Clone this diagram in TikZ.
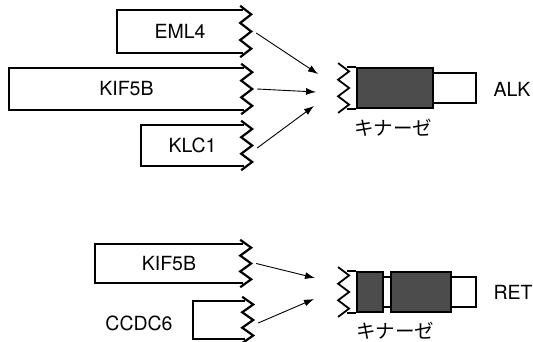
\documentclass[tikz,border=0pt]{standalone}
\usepackage{fontspec}
\setmainfont{TeX Gyre Heros}
\newfontfamily\jpfont{Noto Sans CJK JP}
\usetikzlibrary{arrows.meta, positioning, calc}

% fragment outline: open box with a zigzag break on the right
\newcommand{\fragbox}[1]{%
  \draw[fragline] (#1.north east) -- (#1.north west) -- (#1.south west) -- (#1.south east);
  \coordinate (#1-zt) at ($(#1.north east)+(-3,4)$);
  \coordinate (#1-zb) at ($(#1.south east)+(-3,-4)$);
  \draw[fragline] (#1-zt) \foreach \k [evaluate=\k as \dx using {mod(\k,2)*11}] in {1,...,6}
    {-- ($(#1-zt)!\k/6!(#1-zb)+(\dx,0)$)};
}
% zigzag break on the left of a kinase part
\newcommand{\kinbreak}[1]{%
  \coordinate (#1-zt) at ($(#1.north west)+(-18,4)$);
  \coordinate (#1-zb) at ($(#1.south west)+(-18,-4)$);
  \draw[kinline] (#1.north west) -- ++(-9,0);
  \draw[kinline] (#1.south west) -- ++(-9,0);
  \draw[kinline] (#1-zt) \foreach \k [evaluate=\k as \dx using {mod(\k,2)*11}] in {1,...,6}
    {-- ($(#1-zt)!\k/6!(#1-zb)+(\dx,0)$)};
}

\begin{document}
\begin{tikzpicture}[
    x=1pt, y=1pt,
    frag/.style={draw=none, rectangle, inner sep=0pt, font=\fontsize{19.5}{22}\selectfont},
    fragline/.style={line width=2.2pt, line join=miter},
    kinline/.style={line width=1.8pt},
    kinase/.style={draw, line width=1.8pt, fill=black!70, inner sep=0pt, minimum height=40pt},
    cterm/.style={draw, line width=1.8pt, fill=white, inner sep=0pt, minimum height=30pt},
    genelabel/.style={font=\fontsize{19.5}{22}\selectfont, anchor=west},
    kinlabel/.style={font=\jpfont\fontsize{19.5}{22}\selectfont},
    arrow/.style={line width=0.9pt, -{Latex[length=10pt, width=7pt]}}
]
\useasboundingbox (0,0) rectangle (533,-342);

% ALK fusions
\node (eml4) [frag, minimum width=126pt, minimum height=43pt] at (180,-31.5) {EML4};
\node (kif5a) [frag, minimum width=235pt, minimum height=42pt] at (126.5,-89) {KIF5B};
\node (klc1) [frag, minimum width=103pt, minimum height=41pt] at (192.5,-145.5) {KLC1};
\fragbox{eml4}
\fragbox{kif5a}
\fragbox{klc1}

\node (alkc) [cterm, minimum width=43pt] at (454.5,-88) {};
\node (alkk) [kinase, minimum width=76pt] at (395,-88) {};
\kinbreak{alkk}
\node (alk) [genelabel] at (490,-89) {ALK};
\node (alkkin) [kinlabel] at (393,-128) {キナーゼ};

\coordinate (alkin1) at (318,-74);
\coordinate (alkin2) at (316,-92);
\coordinate (alkin3) at (314,-106);
\draw[arrow] ([xshift=13pt,yshift=-1.5pt]eml4.east) -- (alkin1);
\draw[arrow] ([xshift=13pt]kif5a.east) -- (alkin2);
\draw[arrow] ([xshift=13pt,yshift=-2.5pt]klc1.east) -- (alkin3);

% RET fusions
\node (kif5b) [frag, minimum width=148pt, minimum height=39pt] at (169,-263.5) {KIF5B};
\node (ccdc) [frag, minimum width=52pt, minimum height=38pt] at (219,-320) {};
\fragbox{kif5b}
\fragbox{ccdc}
\node (ccdc6) [genelabel, anchor=center] at (139,-323) {CCDC6};

\node (retc) [cterm, minimum width=25pt] at (463.5,-292) {};
\node (retg) [cterm, minimum width=8pt] at (387,-292) {};
\node (retk1) [kinase, minimum width=26pt] at (370,-292) {};
\node (retk2) [kinase, minimum width=60pt] at (421,-292) {};
\kinbreak{retk1}
\node (ret) [genelabel] at (490,-292) {RET};
\node (retkin) [kinlabel] at (395,-331) {キナーゼ};

\coordinate (retin1) at (315,-278);
\coordinate (retin2) at (314,-299);
\draw[arrow] ([xshift=13pt]kif5b.east) -- (retin1);
\draw[arrow] ([xshift=13pt,yshift=-3pt]ccdc.east) -- (retin2);

\end{tikzpicture}
\end{document}
